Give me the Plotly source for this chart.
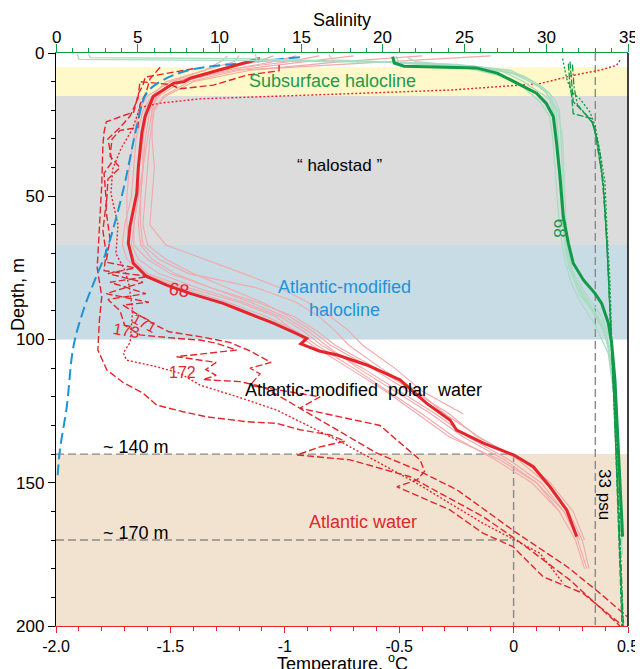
import plotly.graph_objects as go

# ---------------- data ----------------
# station 68 temperature (thick red)
t68_depth = [1.9, 4.2, 7.0, 8.8, 10.0, 10.6, 15.2, 22.2, 28, 39.7, 49, 60.6, 66.4, 73.4, 78, 81, 83.9, 87.4, 89.7,
             94.3, 97.5, 99.6, 101.5, 104, 105.4, 108.9, 114.1, 118, 122.3, 128.1, 131.6, 136.2, 140.3, 144.4,
             151.4, 159.5, 168.8]
t68_temp = [-1.108, -1.21, -1.33, -1.414, -1.44, -1.487, -1.575, -1.611, -1.625, -1.64, -1.647, -1.677, -1.684,
            -1.662, -1.604, -1.516, -1.414, -1.269, -1.196, -1.05, -0.96, -0.904, -0.93, -0.85, -0.77, -0.642,
            -0.497, -0.44, -0.38, -0.278, -0.249, -0.132, 0.0, 0.086, 0.159, 0.232, 0.276]

# station 68 salinity (thick green)
s68_depth = [1.3, 3.5, 4.6, 4.9, 5.2, 7, 10, 14, 17.6, 22.2, 31.5, 43.2, 57.1, 66.4, 73.4, 79.2, 83.9, 87.4,
             94.3, 101.3, 114, 137, 155, 168.8]
s68_sal = [20.6, 20.7, 21.3, 24.0, 25.7, 27.0, 28.0, 29.4, 30.0, 30.43, 30.63, 30.84, 31.04, 31.35, 31.65, 32.27,
           32.98, 33.39, 33.8, 34.0, 34.2, 34.4, 34.55, 34.67]

# other station-68 temperature casts (light red)
pink_depth = [1, 3, 6, 10, 15, 20, 30, 40, 50, 60, 67, 72, 77, 82, 87, 92, 97, 102, 110, 118, 126, 134, 142,
              150, 160, 170, 180]
pink_temp_1 = [-0.10, -0.55, -1.20, -1.42, -1.53, -1.57, -1.59, -1.60, -1.61, -1.62, -1.60, -1.52, -1.40, -1.25,
               -1.10, -0.98, -0.88, -0.80, -0.62, -0.46, -0.30, -0.15, 0.02, 0.14, 0.24, 0.30, 0.33]
pink_temp_2 = [-0.95, -1.05, -1.25, -1.45, -1.55, -1.59, -1.61, -1.62, -1.64, -1.66, -1.67, -1.64, -1.55, -1.38,
               -1.18, -1.02, -0.92, -0.84, -0.66, -0.50, -0.34, -0.20, -0.02, 0.12, 0.22, 0.29, None]
pink_temp_3 = [-0.70, -0.90, -1.22, -1.48, -1.58, -1.62, -1.65, -1.66, -1.67, -1.70, -1.71, -1.69, -1.62, -1.45,
               -1.25, -1.08, -0.95, -0.86, -0.70, -0.55, -0.40, -0.26, -0.08, 0.08, 0.20, None, None]
pink_temp_4 = [-1.25, -1.28, -1.35, -1.50, -1.56, -1.58, -1.58, -1.57, -1.58, -1.59, -1.52, -1.35, -1.18, -1.02,
               -0.90, -0.80, -0.72, -0.66, -0.52, -0.40, -0.22, None, None, None, None, None, None]
pink_temp_5 = [-0.40, -0.75, -1.15, -1.40, -1.52, -1.58, -1.60, -1.62, -1.63, -1.64, -1.63, -1.58, -1.48, -1.32,
               -1.15, -1.00, -0.90, -0.82, -0.68, -0.52, -0.36, -0.22, -0.04, 0.10, 0.22, 0.28, 0.32]
pink_temp_6 = [-1.05, -1.12, -1.30, -1.47, -1.56, -1.60, -1.62, -1.64, -1.64, -1.66, -1.66, -1.60, -1.50, -1.32,
               -1.12, -0.96, -0.86, -0.78, -0.60, -0.44, -0.28, -0.16, 0.04, 0.16, 0.26, 0.31, None]
pink_temp_7 = [-0.85, -0.98, -1.28, -1.50, -1.60, -1.64, -1.66, -1.68, -1.69, -1.69, -1.68, -1.66, -1.60, -1.42,
               -1.20, -1.04, -0.96, -0.88, -0.72, -0.56, -0.42, -0.28, -0.06, 0.10, 0.20, 0.27, 0.31]
pink_temp_8 = [-1.20, -1.22, -1.35, -1.52, -1.58, -1.61, -1.62, -1.62, -1.63, -1.63, -1.62, -1.55, -1.42, -1.12,
               -0.95, -0.85, -0.78, -0.72, -0.58, -0.42, -0.30, None, None, None, None, None, None]

# other station-68 salinity casts (light green)
lg_depth_1 = [0.3, 2.2, 2.6, 3.0, 4.5, 6, 10, 16, 25, 40, 55, 67, 75, 82, 88, 95, 105, 120, 140, 160, 175]
lg_sal_1 = [1.3, 1.4, 10.0, 20.0, 25.5, 27.2, 28.6, 30.2, 30.6, 30.8, 31.0, 31.2, 31.4, 31.9, 32.6, 33.4, 33.9,
            34.2, 34.4, 34.55, 34.65]
lg_depth_2 = [0.5, 1.6, 2.0, 3.5, 5.5, 8, 12, 16, 20, 30, 45, 60, 68, 76, 84, 92, 100, 115, 140, 165]
lg_sal_2 = [2.0, 2.1, 12.0, 22.0, 26.5, 28.6, 29.8, 30.5, 30.8, 30.9, 31.0, 31.1, 31.3, 31.6, 32.4, 33.4, 33.9,
            34.2, 34.45, 34.6]
lg_depth_3 = [0.4, 2.8, 3.2, 4.5, 6, 9, 13, 18, 25, 35, 50, 62, 70, 78, 86, 95, 105, 125, 150]
lg_sal_3 = [12.2, 12.3, 20.0, 25.0, 27.5, 28.9, 29.9, 30.4, 30.6, 30.7, 30.85, 31.05, 31.2, 31.6, 32.5, 33.5,
            34.0, 34.3, 34.5]
lg_depth_4 = [0.6, 2.4, 4, 6, 10, 14, 20, 30, 45, 60, 70, 78, 85, 92, 100, 115, 140, 170]
lg_sal_4 = [16.7, 16.9, 24.5, 27.8, 29.2, 30.0, 30.7, 31.0, 31.1, 31.2, 31.3, 31.7, 32.3, 33.1, 33.7, 34.1,
            34.4, 34.6]
lg_depth_5 = [1.5, 3, 5, 7, 10, 14, 20, 30, 45, 60, 68, 76, 84, 90, 98, 110, 130, 155]
lg_sal_5 = [21.5, 22.0, 26.0, 27.9, 29.0, 30.2, 30.6, 30.75, 30.85, 31.0, 31.25, 31.55, 32.0, 32.8, 33.6, 34.1,
            34.35, 34.55]
lg_depth_6 = [1.0, 3.5, 5, 8, 12, 17, 22, 30, 45, 60, 70, 80, 88, 95, 105, 120, 145, 170]
lg_sal_6 = [20.8, 21.0, 25.0, 27.2, 28.6, 29.6, 30.2, 30.4, 30.6, 30.8, 31.05, 31.5, 32.2, 33.0, 33.8, 34.15,
            34.45, 34.62]

# stations 171-173 and dotted station: temperature
st172_depth = [5.5, 7.2, 8.4, 11.3, 14.2, 20.6, 22.3, 24, 27.6, 32, 46, 60, 75, 85, 93, 103.7, 110.6, 115, 118.7,
               122.9, 125.2, 127, 128.7, 129.3, 131.5, 133.3, 135.5, 137.5, 140.3, 142, 147.9, 161.8, 170, 184, 200]
st172_temp = [-1.40, -1.52, -1.61, -1.62, -1.64, -1.66, -1.725, -1.78, -1.79, -1.795, -1.80, -1.81, -1.82, -1.80,
              -1.81, -1.817, -1.778, -1.707, -1.62, -1.56, -1.445, -1.341, -1.166, -1.035, -0.934, -0.802, -0.737,
              -0.846, -0.947, -0.715, -0.453, -0.134, 0.015, 0.247, 0.465]

st173_depth = [4.2, 6.2, 7.7, 11.2, 12.5, 11, 10, 16, 22, 26, 30, 38, 42, 52, 62, 70, 76, 78, 80, 84, 86, 90, 95,
               98.4, 99.5, 100.2, 101.3, 103.7, 106, 108, 110.5, 112.5, 114, 114.7, 116.5, 122, 130, 139.7, 145.5,
               152.5, 167.6, 179.3, 188.6, 196.7]
st173_temp = [-1.025, -1.025, -1.165, -1.312, -1.458, -1.50, -1.633, -1.642, -1.676, -1.72, -1.773, -1.755, -1.79,
              -1.78, -1.795, -1.781, -1.79, -1.594, -1.764, -1.607, -1.773, -1.72, -1.70, -1.633, -1.489, -1.371,
              -1.30, -1.21, -1.473, -1.30, -1.345, -1.30, -1.358, -1.196, -1.095, -0.977, -0.802, -0.597, -0.422,
              -0.247, 0.015, 0.234, 0.378, 0.496]

st171_depth = [5.0, 9, 14, 18, 26, 27, 30, 36, 40, 44, 55, 65, 73, 75, 77, 80, 84, 87, 88, 90.3, 95, 97.3, 99,
               101, 104, 108, 110, 112, 116, 120, 124, 130, 136, 142, 146, 149, 151.4, 159.5, 167.6, 172.3, 182.8,
               188.6, 200]
st171_temp = [-1.545, -1.589, -1.607, -1.633, -1.642, -1.72, -1.755, -1.764, -1.72, -1.773, -1.781, -1.764, -1.781,
              -1.655, -1.773, -1.62, -1.781, -1.594, -1.707, -1.663, -1.563, -1.506, -1.371, -1.241, -1.152, -1.06,
              -1.152, -1.108, -1.152, -0.846, -0.934, -0.584, -0.497, -0.409, -0.389, -0.422, -0.510, -0.278,
              -0.134, -0.003, 0.129, 0.304, 0.478]

stdot_depth = [2.5, 4.3, 6, 7.8, 10.7, 12.9, 14.2, 14.9, 16, 17.5, 19, 24, 26.4, 33.4, 40.4, 49, 60, 70, 76, 81,
               90, 101, 104.7, 107.2, 109.5, 111.8, 115.9, 119.9, 124.6, 133.9, 136.2, 150.2, 164.2, 174.6, 185.1]
stdot_temp = [0.465, 0.45, 0.378, 0.26, 0.115, -0.269, -0.715, -0.986, -1.371, -1.545, -1.633, -1.655, -1.665,
              -1.716, -1.752, -1.76, -1.729, -1.738, -1.698, -1.681, -1.665, -1.676, -1.706, -1.691, -1.56, -1.458,
              -1.371, -1.211, -1.036, -0.802, -0.744, -0.423, -0.133, 0.115, 0.217]

# stations 171-173 and dotted station: salinity
sd1_depth = [2, 9, 13.6, 16, 20.6, 25.2, 34.6, 45, 60, 80, 100, 130, 160, 200]
sd1_sal = [31.0, 31.25, 31.55, 32.06, 32.67, 32.98, 33.29, 33.59, 33.7, 33.9, 34.0, 34.24, 34.42, 34.66]
sd2_depth = [3.7, 11.3, 15, 21.2, 22.9, 27.6, 34.6, 45, 60, 80, 100, 130, 160, 200]
sd2_sal = [31.35, 31.45, 31.55, 31.65, 32.78, 32.98, 33.18, 33.49, 33.65, 33.84, 33.99, 34.2, 34.39, 34.63]
sd3_depth = [3, 10, 17, 21.8, 25, 35, 50, 70, 90, 110, 140, 170, 200]
sd3_sal = [31.45, 31.57, 31.65, 32.47, 32.9, 33.29, 33.53, 33.74, 33.9, 34.05, 34.27, 34.48, 34.7]
sd4_depth = [4, 12, 18, 24, 30, 45, 65, 90, 120, 160, 200]
sd4_sal = [31.6, 31.7, 31.9, 32.8, 33.1, 33.45, 33.7, 33.92, 34.15, 34.45, 34.72]

# blue dashed reference curve (temperature axis)
blue_depth = [1.5, 3.6, 5.9, 9.4, 14, 25.7, 47.8, 68.8, 79.2, 89.7, 102.5, 123.5, 138.6, 149]
blue_temp = [-0.934, -1.196, -1.414, -1.531, -1.604, -1.647, -1.706, -1.778, -1.830, -1.880, -1.924, -1.953,
             -1.983, -1.994]

# water layers (depth ranges)
layer_names = ["Subsurface halocline", "halostad", "Atlantic-modified halocline", "Atlantic water"]
layer_top = [5, 15, 67, 140]
layer_bottom = [15, 67, 100, 200]
layer_colors = ["#FFF8C8", "#DCDCDC", "#C8DCE6", "#F2E3D0"]

temp_ticks = [-2.0, -1.5, -1.0, -0.5, 0.0, 0.5]
temp_ticktext = ["-2.0", "-1.5", "-1", "-0.5", "0", "0.5"]
sal_ticks = [0, 5, 10, 15, 20, 25, 30, 35]
depth_ticks = [0, 50, 100, 150, 200]

# ---------------- figure ----------------
RED = "#E3262B"
PINK = "#F2A9AA"
GREEN = "#119A48"
LGREEN = "#A9DCC2"
BLUE = "#1E93D8"
FONT = "Arial"

fig = go.Figure()

for dep, sal in [(lg_depth_1, lg_sal_1), (lg_depth_2, lg_sal_2), (lg_depth_3, lg_sal_3),
                 (lg_depth_4, lg_sal_4), (lg_depth_5, lg_sal_5), (lg_depth_6, lg_sal_6)]:
    fig.add_trace(go.Scatter(x=sal, y=dep, xaxis="x2", yaxis="y", mode="lines",
                             line=dict(color=LGREEN, width=1.3), hoverinfo="skip", showlegend=False))

for tt in [pink_temp_1, pink_temp_2, pink_temp_3, pink_temp_4, pink_temp_5, pink_temp_6, pink_temp_7,
           pink_temp_8]:
    fig.add_trace(go.Scatter(x=tt, y=pink_depth, mode="lines", line=dict(color=PINK, width=1.1),
                             hoverinfo="skip", showlegend=False))

for dep, sal, dash in [(sd1_depth, sd1_sal, "2px,2px"), (sd2_depth, sd2_sal, "7px,2px"),
                       (sd3_depth, sd3_sal, "7px,2px"), (sd4_depth, sd4_sal, "7px,2px,2px,2px")]:
    fig.add_trace(go.Scatter(x=sal, y=dep, xaxis="x2", yaxis="y", mode="lines",
                             line=dict(color=GREEN, width=1.3, dash=dash), hoverinfo="skip",
                             showlegend=False))

for dep, tt, dash in [(st172_depth, st172_temp, "7px,3px"), (st173_depth, st173_temp, "7px,3px"),
                      (st171_depth, st171_temp, "7px,3px"), (stdot_depth, stdot_temp, "2px,2px")]:
    fig.add_trace(go.Scatter(x=tt, y=dep, mode="lines", line=dict(color=RED, width=1.4, dash=dash),
                             hoverinfo="skip", showlegend=False))

fig.add_trace(go.Scatter(x=blue_temp, y=blue_depth, mode="lines",
                         line=dict(color=BLUE, width=2, dash="11px,5px", shape="spline"),
                         hoverinfo="skip", showlegend=False))

fig.add_trace(go.Scatter(x=t68_temp, y=t68_depth, mode="lines", line=dict(color=RED, width=3),
                         hoverinfo="skip", showlegend=False))
fig.add_trace(go.Scatter(x=s68_sal, y=s68_depth, xaxis="x2", yaxis="y", mode="lines",
                         line=dict(color=GREEN, width=3), hoverinfo="skip", showlegend=False))

# layer bands
shapes = []
for top, bot, col in zip(layer_top, layer_bottom, layer_colors):
    shapes.append(dict(type="rect", xref="paper", yref="y", x0=0, x1=1, y0=top, y1=bot,
                       fillcolor=col, line=dict(width=0), layer="below"))
GRAY = "#8A8A8A"
shapes += [
    dict(type="line", xref="x", yref="y", x0=-2, x1=0, y0=140, y1=140,
         line=dict(color=GRAY, width=1.4, dash="8px,4px"), layer="below"),
    dict(type="line", xref="x", yref="y", x0=-2, x1=0, y0=170, y1=170,
         line=dict(color=GRAY, width=1.4, dash="8px,4px"), layer="below"),
    dict(type="line", xref="x", yref="y", x0=0, x1=0, y0=140, y1=200,
         line=dict(color=GRAY, width=1.4, dash="8px,4px"), layer="below"),
    dict(type="line", xref="x2", yref="y", x0=33, x1=33, y0=0, y1=200,
         line=dict(color=GRAY, width=1.4, dash="8px,4px"), layer="below"),
    dict(type="line", xref="paper", yref="paper", x0=1, x1=1, y0=0, y1=1,
         line=dict(color="black", width=1.5)),
]

anns = [
    dict(x=-0.79, y=9.9, text="Subsurface halocline", font=dict(color="#23994A", size=18)),
    dict(x=-0.76, y=39.1, text="\u201c halostad \u201d", font=dict(color="black", size=17)),
    dict(x=-0.74, y=85.8, text="Atlantic-modified<br>halocline", font=dict(color=BLUE, size=18)),
    dict(x=-0.655, y=117.6, text="Atlantic-modified  polar  water", font=dict(color="black", size=18)),
    dict(x=-1.652, y=137.4, text="~ 140 m", font=dict(color="black", size=18)),
    dict(x=-1.652, y=167.6, text="~ 170 m", font=dict(color="black", size=18)),
    dict(x=-0.660, y=163.6, text="Atlantic water", font=dict(color=RED, size=18)),
    dict(x=0.40, y=154.0, text="33 psu", textangle=90, font=dict(color="black", size=17)),
    dict(x=-1.462, y=82.7, text="68", textangle=8, font=dict(color=RED, size=18)),
    dict(x=-1.446, y=111.6, text="172", font=dict(color=RED, size=16)),
    dict(x=-1.694, y=97.0, text="173", textangle=10, font=dict(color=RED, size=16)),
    dict(x=-1.615, y=94.0, text="171", textangle=28, font=dict(color=RED, size=15)),
]
annotations = []
for a in anns:
    a.update(xref="x", yref="y", showarrow=False, xanchor="center", yanchor="middle")
    a["font"]["family"] = FONT
    annotations.append(a)
annotations.append(dict(xref="x2", yref="y", x=30.86, y=61.1, text="68", textangle=90, showarrow=False,
                        font=dict(color=GREEN, size=17, family=FONT)))
# salinity tick labels (top axis), placed at the salinity tick values
for s in sal_ticks:
    annotations.append(dict(xref="x2", yref="paper", x=s, y=1.0279, text=str(s), showarrow=False,
                            xanchor="center", yanchor="middle",
                            font=dict(size=17, family=FONT, color="black")))
# axis titles
annotations += [
    dict(xref="paper", yref="paper", x=0.5, y=1.0576, text="Salinity", showarrow=False,
         xanchor="center", yanchor="middle", font=dict(size=18, family=FONT, color="black")),
    dict(xref="paper", yref="paper", x=0.5, y=-0.0645, text="Temperature, <sup>o</sup>C", showarrow=False,
         xanchor="center", yanchor="middle", font=dict(size=18, family=FONT, color="black")),
    dict(xref="paper", yref="paper", x=-0.066, y=0.578, text="Depth, m", showarrow=False, textangle=-90,
         xanchor="center", yanchor="middle", font=dict(size=18, family=FONT, color="black")),
]

fig.update_layout(
    width=635, height=661,
    margin=dict(l=48, r=15, t=45, b=43, autoexpand=False),
    paper_bgcolor="white", plot_bgcolor="white",
    font=dict(family=FONT, size=15, color="black"),
    showlegend=False,
    shapes=shapes,
    annotations=annotations,
    xaxis=dict(range=[-2.0, 0.5], showgrid=False, zeroline=False, showline=True, linecolor=RED, linewidth=1.3,
               automargin=False,
               ticks="outside", ticklen=6, tickcolor=RED, tickwidth=1.2,
               tickvals=temp_ticks, ticktext=temp_ticktext, tickfont=dict(size=16, color="black"),
               minor=dict(dtick=0.1, ticks="outside", ticklen=4, tickcolor=RED, tickwidth=1, showgrid=False)),
    xaxis2=dict(range=[0, 35], overlaying="x", side="top", anchor="y", showgrid=False, zeroline=False,
                automargin=False, showticklabels=False,
                showline=True, linecolor=GREEN, linewidth=1.3, ticks="outside", ticklen=8, tickcolor=GREEN,
                tickwidth=1.2, tickvals=sal_ticks,
                minor=dict(dtick=1, ticks="outside", ticklen=4, tickcolor=GREEN, tickwidth=1, showgrid=False)),
    yaxis=dict(range=[200, 0], showgrid=False, zeroline=False, showline=True, linecolor="black", linewidth=1.3,
               automargin=False,
               ticks="outside", ticklen=7, tickcolor="black", tickwidth=1.2, tickvals=depth_ticks,
               tickfont=dict(size=17, color="black"),
               minor=dict(dtick=10, ticks="outside", ticklen=4, tickcolor="black", tickwidth=1, showgrid=False)),
)

fig.write_html("out.html")
